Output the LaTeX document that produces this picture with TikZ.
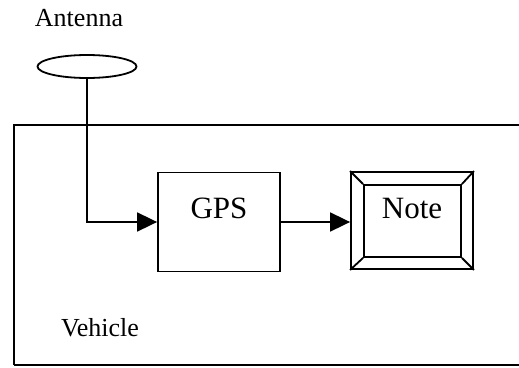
\documentclass[tikz,border=0pt]{standalone}
\usepackage{fontspec}
\setmainfont{Liberation Serif}
\usetikzlibrary{arrows.meta,shapes.geometric}
\colorlet{myink}{black}

\begin{document}
\begin{tikzpicture}[x=1pt,y=-1pt,line width=1.8pt,
  every node/.style={font=\fontsize{26}{30}\selectfont},
  unit/.style={draw=myink, rectangle, inner sep=0pt},
  tag/.style={font=\fontsize{31}{36}\selectfont},
  feed/.style={draw=myink, -{Triangle[length=20pt,width=19pt]}}]
\useasboundingbox (0,0) rectangle (519,367);
% vehicle frame, open to the right
\draw[myink] (14,365) -- (14,125) -- (519,125);
\draw[myink] (14,365) -- (519,365);
\node (vehicle) at (100,328) {Vehicle};
% antenna
\node (antlabel) at (79,18.5) {Antenna};
\node[draw=myink, ellipse, inner sep=0pt, minimum width=99pt, minimum height=23pt] (ant) at (87,66.5) {};
% receiver
\node[unit, minimum width=122pt, minimum height=99pt] (gps) at (219,222) {};
\node[tag] (gpslabel) at (219,208) {GPS};
% note display, bevelled frame
\node[unit, minimum width=122pt, minimum height=97pt] (note) at (412,220.5) {};
\node[unit, minimum width=97pt, minimum height=72pt] (notein) at (412.5,221) {};
\draw[myink] (note.north west) -- (notein.north west);
\draw[myink] (note.north east) -- (notein.north east);
\draw[myink] (note.south west) -- (notein.south west);
\draw[myink] (note.south east) -- (notein.south east);
\node[tag] (notelabel) at (412,208) {Note};
% signal path
\draw[feed] (ant.south) |- (gps.west);
\draw[feed] (gps.east) -- (gps.east -| note.west);
\end{tikzpicture}
\end{document}
